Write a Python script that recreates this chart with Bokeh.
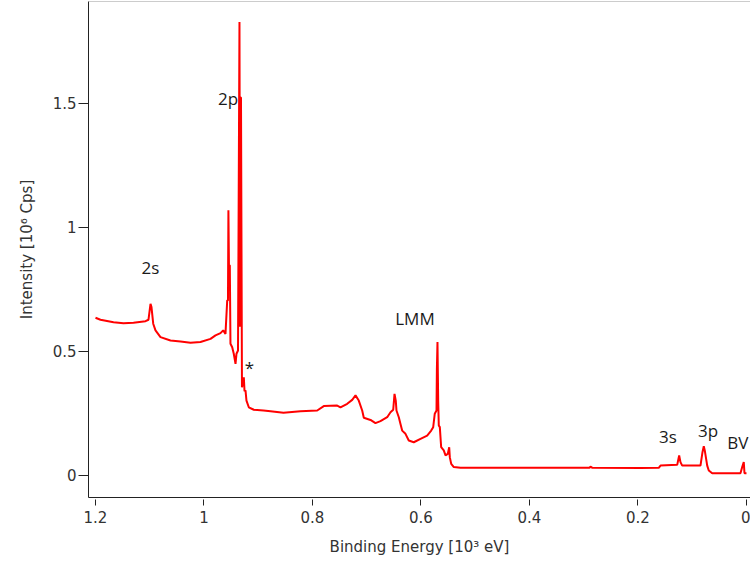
from bokeh.plotting import figure
from bokeh.models import Range1d, FixedTicker, Span, ColumnDataSource
from bokeh.core.properties import value
from bokeh.embed import file_html
from bokeh.resources import INLINE

# Binding energy [10^3 eV] and intensity [10^6 cps]
energy = [1.2000, 1.1908, 1.1668, 1.1484, 1.1300, 1.1078, 1.1023, 1.0986, 1.0968, 1.0936,
          1.0894, 1.0802, 1.0618, 1.0433, 1.0249, 1.0065, 0.9880, 0.9788, 0.9696, 0.9646,
          0.9604, 0.9572, 0.9558, 0.9550, 0.9540, 0.9524, 0.9512, 0.9480, 0.9451, 0.9419,
          0.9401, 0.9373, 0.9346, 0.9335, 0.9327, 0.9318, 0.9300, 0.9266, 0.9253, 0.9235,
          0.9217, 0.9174, 0.9082, 0.8903, 0.8774, 0.8535, 0.8221, 0.7913, 0.7792, 0.7545,
          0.7484, 0.7360, 0.7268, 0.7207, 0.7147, 0.7084, 0.7054, 0.6931, 0.6839, 0.6747,
          0.6623, 0.6562, 0.6512, 0.6488, 0.6465, 0.6452, 0.6409, 0.6378, 0.6347, 0.6286,
          0.6225, 0.6133, 0.6009, 0.5886, 0.5812, 0.5775, 0.5746, 0.5714, 0.5707, 0.5696,
          0.5683, 0.5672, 0.5653, 0.5628, 0.5580, 0.5548, 0.5506, 0.5480, 0.5469, 0.5443,
          0.5395, 0.5272, 0.2894, 0.2876, 0.2839, 0.1954, 0.1617, 0.1585, 0.1277, 0.1241,
          0.1217, 0.1185, 0.0848, 0.0811, 0.0787, 0.0769, 0.0724, 0.0695, 0.0632, 0.0111,
          0.0079, 0.0050, 0.0037, 0.0000]
intensity = [0.636, 0.628, 0.618, 0.614, 0.616, 0.622, 0.628, 0.692, 0.679, 0.612,
             0.585, 0.558, 0.544, 0.540, 0.535, 0.538, 0.551, 0.565, 0.574, 0.585,
             0.571, 0.706, 0.706, 1.069, 0.850, 0.847, 0.531, 0.517, 0.491, 0.450,
             0.491, 0.504, 1.828, 0.600, 1.524, 1.524, 0.356, 0.396, 0.340, 0.343,
             0.302, 0.275, 0.265, 0.262, 0.259, 0.253, 0.259, 0.262, 0.280, 0.282,
             0.275, 0.289, 0.305, 0.323, 0.302, 0.262, 0.233, 0.224, 0.211, 0.219,
             0.235, 0.255, 0.265, 0.329, 0.302, 0.262, 0.235, 0.208, 0.181, 0.168,
             0.141, 0.134, 0.148, 0.161, 0.181, 0.195, 0.249, 0.262, 0.430, 0.538,
             0.300, 0.202, 0.195, 0.114, 0.101, 0.081, 0.087, 0.114, 0.074, 0.047,
             0.034, 0.031, 0.031, 0.036, 0.031, 0.030, 0.031, 0.040, 0.043, 0.081,
             0.054, 0.040, 0.040, 0.094, 0.118, 0.101, 0.040, 0.020, 0.009, 0.009,
             0.034, 0.054, 0.009, 0.009]

# Peak labels (data coordinates)
peak_text = ["2p", "2s", "*", "LMM", "3s", "3p", "BV"]
peak_x = [0.9558, 1.0986, 0.9161, 0.6111, 0.1447, 0.0710, 0.0160]
peak_y = [1.520, 0.839, 0.435, 0.631, 0.159, 0.183, 0.135]

x_ticks = [1.2, 1.0, 0.8, 0.6, 0.4, 0.2, 0.0]
x_tick_labels = ["1.2", "1", "0.8", "0.6", "0.4", "0.2", "0"]
y_ticks = [0.0, 0.5, 1.0, 1.5]
y_tick_labels = ["0", "0.5", "1", "1.5"]

p = figure(width=750, height=562, output_backend="svg", toolbar_location=None,
           title=None, x_range=Range1d(1.2129, -0.0074), y_range=Range1d(-0.0887, 1.911),
           min_border_left=88, min_border_right=0, min_border_top=1, min_border_bottom=65)
p.outline_line_color = None
p.xgrid.visible = False
p.ygrid.visible = False
p.background_fill_color = "white"
p.border_fill_color = "white"

p.line(energy, intensity, line_color="#FF0000", line_width=2)

src = ColumnDataSource(dict(x=peak_x, y=peak_y, t=peak_text))
p.text(x="x", y="y", text="t", source=src, text_align="center", text_baseline="middle",
       text_font=value("Open Sans"), text_font_size="17px", text_color="#1a1a1a")

p.add_layout(Span(location=1.911, dimension="width", line_color="#999999", line_width=1))

fs = "15px"
font = "DejaVu Sans"
xa = p.xaxis[0]
xa.ticker = FixedTicker(ticks=x_ticks)
xa.major_label_overrides = {t: l for t, l in zip(x_ticks, x_tick_labels)}
xa.minor_tick_line_color = None
xa.major_tick_in = -2
xa.major_tick_out = 8
xa.axis_line_color = "#222222"
xa.major_tick_line_color = "#222222"
xa.major_label_text_font = font
xa.major_label_text_font_size = fs
xa.major_label_text_color = "#333333"
xa.major_label_standoff = 5
xa.axis_label = "Binding Energy [10³ eV]"
xa.axis_label_text_font = font
xa.axis_label_text_font_size = fs
xa.axis_label_text_font_style = "normal"
xa.axis_label_text_color = "#333333"
xa.axis_label_standoff = 12

ya = p.yaxis[0]
ya.ticker = FixedTicker(ticks=y_ticks)
ya.major_label_overrides = {t: l for t, l in zip(y_ticks, y_tick_labels)}
ya.minor_tick_line_color = None
ya.major_tick_in = 0
ya.major_tick_out = 10
ya.axis_line_color = "#222222"
ya.major_tick_line_color = "#222222"
ya.major_label_text_font = font
ya.major_label_text_font_size = fs
ya.major_label_text_color = "#333333"
ya.major_label_standoff = 2
ya.axis_label = "Intensity [10⁶ Cps]"
ya.axis_label_text_font = font
ya.axis_label_text_font_size = fs
ya.axis_label_text_font_style = "normal"
ya.axis_label_text_color = "#333333"
ya.axis_label_standoff = 14

open("out.html", "w").write(file_html(p, INLINE))
